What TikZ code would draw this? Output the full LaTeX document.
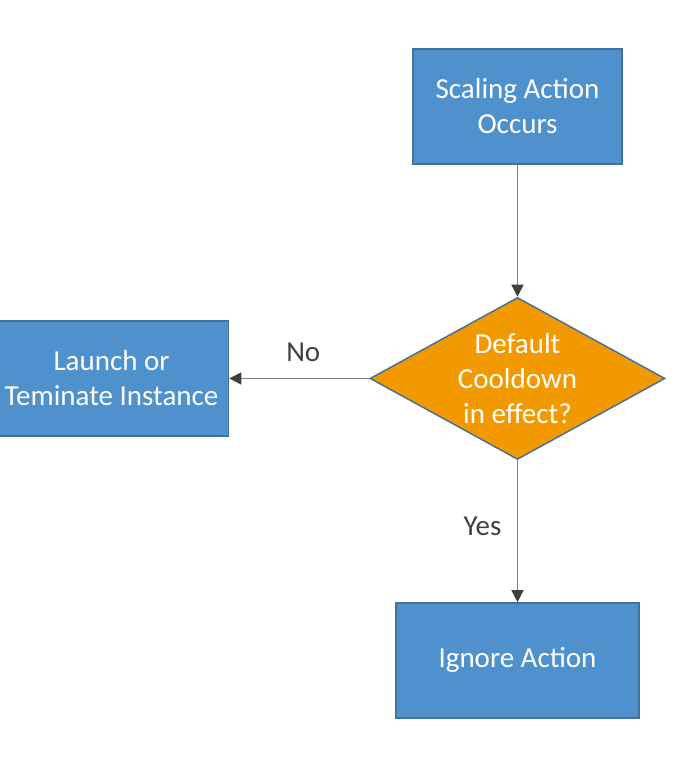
\documentclass[tikz,border=0pt]{standalone}
\usepackage{fontspec}
\setmainfont{Carlito}
\definecolor{aws-blue}{RGB}{79,145,205}
\definecolor{aws-edge}{RGB}{65,113,156}
\definecolor{aws-orange}{RGB}{243,153,0}
\definecolor{aws-line}{RGB}{128,128,128}
\definecolor{aws-dark}{RGB}{64,64,64}
\usetikzlibrary{shapes.geometric, arrows.meta, positioning}

\begin{document}
\begin{tikzpicture}[
    x=0.75pt, y=-0.75pt,
    action/.style={rectangle, draw=aws-edge, line width=1.1pt, fill=aws-blue, text=white, minimum height=86.25pt, align=center, font=\fontsize{21.75}{26.25}\selectfont},
    decision/.style={diamond, draw=aws-edge, line width=1.1pt, fill=aws-orange, inner sep=0pt, minimum width=221.25pt, minimum height=121.5pt},
    choice/.style={text=aws-dark, inner sep=0pt, font=\fontsize{21.75}{26.25}\selectfont},
    arrow/.style={-{Triangle[length=9pt, width=9pt, color=aws-dark]}, draw=aws-line, line width=1.1pt}
]
\useasboundingbox (0,0) rectangle (682,770);

% Flow
\node[action, minimum width=156.75pt] (scaling) at (517.5,106.5) {Scaling Action\\Occurs};
\node[decision, below=99pt of scaling,
      label={[text=white, align=center, font=\fontsize{21.75}{26.25}\selectfont]center:Default\\Cooldown\\in effect?}] (cooldown) {};
\node[action, minimum width=175.5pt, left=105pt of cooldown] (launch) {Launch or\\Teminate Instance};
\node[action, minimum width=182.25pt, below=106.5pt of cooldown] (ignore) {Ignore Action};

% Conexoes
\draw[arrow] (scaling) -- (cooldown);
\draw[arrow] (cooldown) -- node[choice, midway, xshift=3pt, yshift=19.5pt] (no) {No} (launch);
\draw[arrow] (cooldown) -- node[choice, midway, xshift=-26.25pt, yshift=3.4pt] (yes) {Yes} (ignore);

\end{tikzpicture}
\end{document}
